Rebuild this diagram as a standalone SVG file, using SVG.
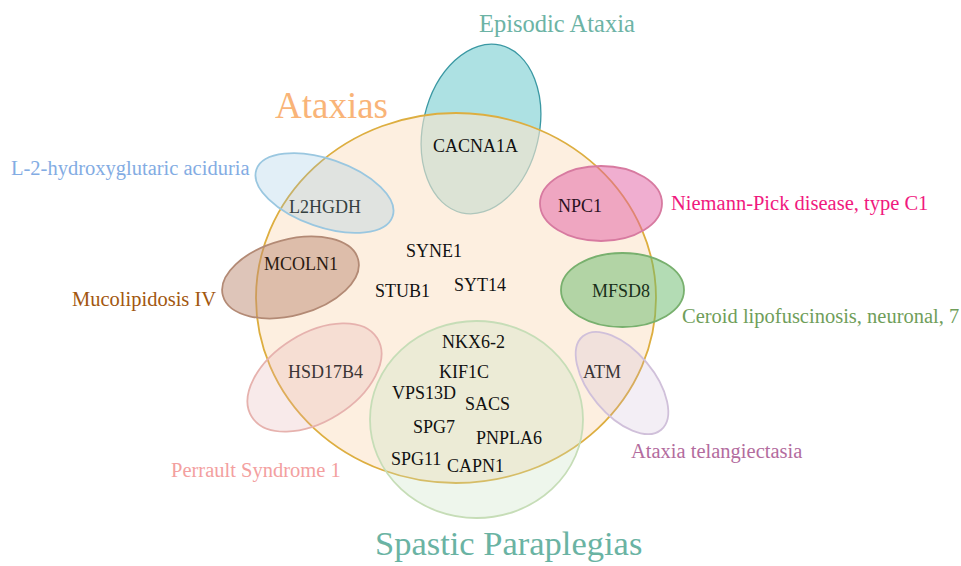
<svg xmlns="http://www.w3.org/2000/svg" width="961" height="566" viewBox="0 0 961 566" font-family="'Liberation Serif', serif">
<style>
.gene{font-size:18px;fill:#111}
.lab{font-size:20.5px}
</style>
<rect width="961" height="566" fill="#ffffff"/>
<g id="episodic-ataxia">
<ellipse cx="481" cy="129" rx="58" ry="86" transform="rotate(13 481 129)" fill="#ade1e3" stroke="#3a98a3" stroke-width="1.3"/>
<text x="479" y="32" font-family="Liberation Serif" style="font-size:24.5px" fill="#6cb3a5">Episodic Ataxia</text>
</g>
<g id="ataxias">
<ellipse cx="456" cy="298" rx="200" ry="185" fill="#fbe5cc" fill-opacity="0.6" stroke="#ddae40" stroke-width="1.8"/>
<text x="275" y="118" font-family="Liberation Serif" style="font-size:37px" fill="#f9b478">Ataxias</text>
</g>
<g id="spastic-paraplegias">
<ellipse cx="476.5" cy="419.5" rx="106.5" ry="98.5" fill="#c8e0c0" fill-opacity="0.3" stroke="#c6ddb7" stroke-width="1.8"/>
<text x="375" y="555" font-family="Liberation Serif" style="font-size:34.5px" fill="#6ab3a3">Spastic Paraplegias</text>
</g>
<g id="l2hgdh">
<ellipse cx="324.5" cy="193" rx="72" ry="34" transform="rotate(19 324.5 193)" fill="#8cbee1" fill-opacity="0.25" stroke="#9ac7e0" stroke-width="1.8"/>
<text class="lab" x="11" y="175" font-family="Liberation Serif" fill="#83ace3">L-2-hydroxyglutaric aciduria</text>
</g>
<g id="hsd17b4">
<ellipse cx="314.5" cy="377.5" rx="74" ry="44" transform="rotate(-32 314.5 377.5)" fill="#e3abab" fill-opacity="0.25" stroke="#e6b2ae" stroke-width="1.8"/>
<text class="lab" x="171" y="477" font-family="Liberation Serif" fill="#f3a0a0">Perrault Syndrome 1</text>
</g>
<g id="atm">
<ellipse cx="622" cy="383" rx="61" ry="32" transform="rotate(50 622 383)" fill="#c3aacd" fill-opacity="0.2" stroke="#d0c0da" stroke-width="1.8"/>
<text class="lab" x="631" y="458" font-family="Liberation Serif" fill="#b36c9e">Ataxia telangiectasia</text>
</g>
<g id="npc1">
<ellipse cx="601" cy="203.5" rx="61" ry="37.5" fill="#e15da1" fill-opacity="0.5" stroke="#d77aa0" stroke-width="1.8"/>
<text class="lab" x="671" y="210" font-family="Liberation Serif" fill="#f0197e">Niemann-Pick disease, type C1</text>
</g>
<g id="mfsd8">
<ellipse cx="622.5" cy="290" rx="61.5" ry="37" fill="#67b969" fill-opacity="0.5" stroke="#78b06e" stroke-width="1.8"/>
<text class="lab" x="682" y="323" font-family="Liberation Serif" fill="#6f9e5a">Ceroid lipofuscinosis, neuronal, 7</text>
</g>
<g id="mcoln1">
<ellipse cx="290.5" cy="277.5" rx="70" ry="38" transform="rotate(-15 290.5 277.5)" fill="#bd8b73" fill-opacity="0.5" stroke="#b38a75" stroke-width="1.8"/>
<text class="lab" x="72" y="306" font-family="Liberation Serif" fill="#a2570f">Mucolipidosis IV</text>
</g>
<g id="genes" font-family="Liberation Serif">
<text class="gene" x="433" y="152">CACNA1A</text>
<text class="gene" x="289" y="213" style="fill:#34403f">L2HGDH</text>
<text class="gene" x="558" y="212" style="fill:#2a1020">NPC1</text>
<text class="gene" x="406" y="257">SYNE1</text>
<text class="gene" x="264" y="270" style="fill:#2a1a10">MCOLN1</text>
<text class="gene" x="375" y="297">STUB1</text>
<text class="gene" x="454" y="291">SYT14</text>
<text class="gene" x="592" y="297" style="fill:#1a301a">MFSD8</text>
<text class="gene" x="442" y="348">NKX6-2</text>
<text class="gene" x="439" y="378">KIF1C</text>
<text class="gene" x="392" y="399">VPS13D</text>
<text class="gene" x="465" y="410">SACS</text>
<text class="gene" x="413" y="433">SPG7</text>
<text class="gene" x="476" y="444">PNPLA6</text>
<text class="gene" x="391" y="465">SPG11</text>
<text class="gene" x="447" y="472">CAPN1</text>
<text class="gene" x="288" y="378" style="fill:#3b3535">HSD17B4</text>
<text class="gene" x="583" y="378" style="fill:#3a3535">ATM</text>
</g>
</svg>
